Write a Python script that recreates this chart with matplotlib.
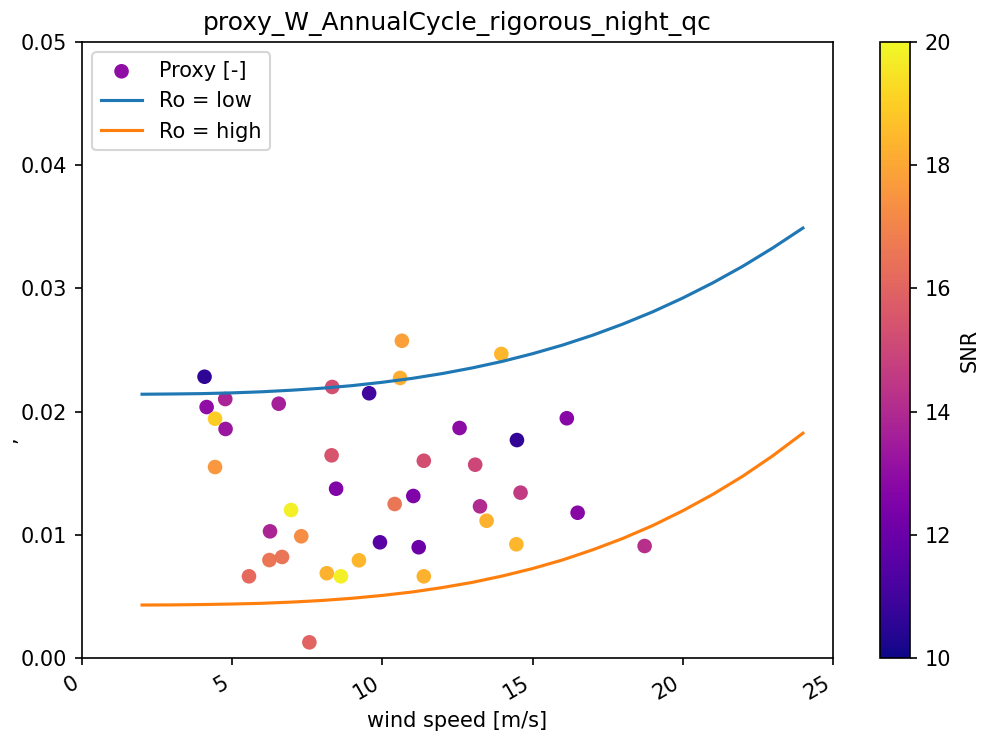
import numpy as np
import matplotlib
matplotlib.use("Agg")
import matplotlib.pyplot as plt

# proxy values per night, wind speed and signal-to-noise ratio
wind = [4.15, 4.08, 4.77, 4.43, 4.78, 4.43, 6.55, 8.33, 9.56, 10.65,
        10.59, 13.96, 8.31, 8.46, 6.96, 6.26, 7.30, 6.24, 6.66, 5.56,
        8.15, 8.62, 9.22, 9.92, 10.41, 11.03, 11.38, 12.57, 13.09, 13.25,
        13.47, 11.21, 11.38, 14.48, 14.60, 14.46, 7.57, 16.14, 16.50, 18.73]
proxy = [0.02037, 0.02283, 0.02102, 0.01942, 0.01859, 0.01550, 0.02064,
         0.02200, 0.02149, 0.02575, 0.02273, 0.02468, 0.01645, 0.01374,
         0.01201, 0.01028, 0.00988, 0.00795, 0.00820, 0.00663, 0.00688,
         0.00663, 0.00793, 0.00939, 0.01250, 0.01315, 0.01601, 0.01867,
         0.01569, 0.01231, 0.01114, 0.00899, 0.00663, 0.01769, 0.01342,
         0.00923, 0.00127, 0.01946, 0.01179, 0.00909]
snr = [13.0, 10.6, 13.8, 19.0, 13.3, 17.6, 13.6, 15.3, 11.0, 17.8,
       18.2, 18.4, 15.5, 12.6, 19.8, 13.8, 17.3, 16.6, 16.5, 16.2,
       18.3, 19.8, 18.4, 11.6, 16.6, 12.5, 15.3, 12.9, 15.0, 14.0,
       18.3, 12.1, 18.3, 10.7, 14.6, 18.4, 16.0, 12.8, 12.8, 14.2]

# model curves for low / high Rossby number
u_model = [2, 3, 4, 5, 6, 7, 8, 9, 10, 11, 12, 13, 14, 15, 16, 17, 18,
           19, 20, 21, 22, 23, 24]
ro_low = [0.02141, 0.02143, 0.02146, 0.02152, 0.02161, 0.02174, 0.02190,
          0.02211, 0.02238, 0.02270, 0.02309, 0.02355, 0.02408, 0.02470,
          0.02540, 0.02620, 0.02710, 0.02810, 0.02922, 0.03045, 0.03180,
          0.03329, 0.03490]
ro_high = [0.00430, 0.00431, 0.00434, 0.00438, 0.00444, 0.00454, 0.00467,
           0.00485, 0.00508, 0.00536, 0.00572, 0.00614, 0.00666, 0.00726,
           0.00796, 0.00878, 0.00970, 0.01075, 0.01195, 0.01328, 0.01476,
           0.01642, 0.01825]

DPI = 150
fig = plt.figure(figsize=(1002 / DPI, 737 / DPI), dpi=DPI)
ax = fig.add_axes([0.0818, 0.1072, 0.7495, 0.8358])
cax = fig.add_axes([0.878, 0.1072, 0.030, 0.8358])

sc = ax.scatter(wind, proxy, c=snr, cmap="plasma", vmin=10, vmax=20,
                label="Proxy [-]")
ax.plot(u_model, ro_low, color="tab:blue", label="Ro = low")
ax.plot(u_model, ro_high, color="tab:orange", label="Ro = high")

ax.set_xlim(0, 25)
ax.set_ylim(0, 0.05)
ax.set_xticks([0, 5, 10, 15, 20, 25])
ax.set_yticks([0, 0.01, 0.02, 0.03, 0.04, 0.05])
for lbl in ax.get_xticklabels():
    lbl.set_rotation(30)
    lbl.set_ha("right")
ax.set_xlabel("wind speed [m/s]")
ax.set_ylabel(",")
ax.yaxis.set_label_coords(-0.084, 0.354)
ax.set_title("proxy_W_AnnualCycle_rigorous_night_qc")
ax.legend(loc="upper left")

cb = fig.colorbar(sc, cax=cax)
cb.set_label("SNR")

fig.savefig("out.png", dpi=DPI)
